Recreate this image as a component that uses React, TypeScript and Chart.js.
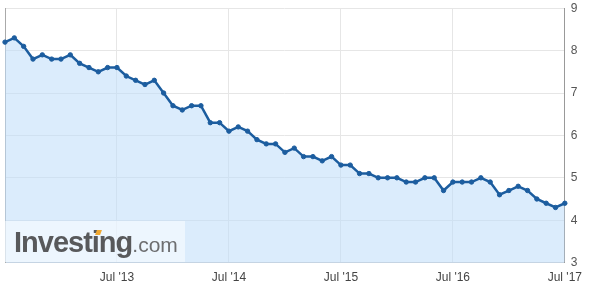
import React, { useEffect, useRef } from "react";
import { Chart, registerables } from "chart.js";

Chart.register(...registerables);

const months = ["Jan", "Feb", "Mar", "Apr", "May", "Jun", "Jul", "Aug", "Sep", "Oct", "Nov", "Dec"];

// Release months: Jul 2012 .. Jul 2017
const categories: string[] = [];
for (let y = 2012; y <= 2017; y++) {
  for (let m = 0; m < 12; m++) {
    if (y === 2012 && m < 6) continue;
    if (y === 2017 && m > 6) continue;
    categories.push(`${months[m]} '${String(y).slice(2)}`);
  }
}

const rates: number[] = [
  8.2, 8.3, 8.1, 7.8, 7.9, 7.8, 7.8,
  7.9, 7.7, 7.6, 7.5, 7.6, 7.6, 7.4, 7.3, 7.2, 7.3, 7.0, 6.7,
  6.6, 6.7, 6.7, 6.3, 6.3, 6.1, 6.2, 6.1, 5.9, 5.8, 5.8, 5.6,
  5.7, 5.5, 5.5, 5.4, 5.5, 5.3, 5.3, 5.1, 5.1, 5.0, 5.0, 5.0,
  4.9, 4.9, 5.0, 5.0, 4.7, 4.9, 4.9, 4.9, 5.0, 4.9, 4.6, 4.7,
  4.8, 4.7, 4.5, 4.4, 4.3, 4.4,
];

const tickLabelsShown = ["Jul '13", "Jul '14", "Jul '15", "Jul '16", "Jul '17"];
const yTicks = [3, 4, 5, 6, 7, 8, 9];

export default function App() {
  const ref = useRef<HTMLCanvasElement>(null);
  useEffect(() => {
    if (!ref.current) return;
    const chart = new Chart(ref.current, {
      type: "line",
      data: {
        labels: categories,
        datasets: [
          {
            data: rates,
            borderColor: "#1c5d9f",
            backgroundColor: "rgba(190,220,250,0.55)",
            fill: "start",
            borderWidth: 2.5,
            pointRadius: 2.2,
            pointBackgroundColor: "#1c5d9f",
            pointBorderColor: "#1c5d9f",
            pointBorderWidth: 1,
            tension: 0,
          },
        ],
      },
      options: {
        responsive: false,
        animation: false,
        maintainAspectRatio: false,
        layout: { padding: { left: 4, right: 3, top: 3, bottom: 3 } },
        plugins: { legend: { display: false }, tooltip: { enabled: false } },
        scales: {
          x: {
            type: "category",
            offset: false,
            grid: { color: "#e6e6e6", drawTicks: false },
            border: { color: "#c6d4e2", width: 1 },
            ticks: {
              autoSkip: false,
              maxRotation: 0,
              padding: 8,
              color: "#444",
              font: { family: "Liberation Sans, Arial", size: 12 },
              callback: (_v: any, i: number) => {
                const l = categories[i];
                return tickLabelsShown.includes(l) ? l : null;
              },
            },
          },
          y: {
            position: "right",
            min: yTicks[0],
            max: yTicks[yTicks.length - 1],
            afterBuildTicks: (s: any) => {
              s.ticks = yTicks.map((v) => ({ value: v }));
            },
            grid: { color: "#e6e6e6", drawTicks: false },
            border: { color: "#999", width: 1 },
            ticks: {
              padding: 6,
              color: "#555",
              font: { family: "Liberation Sans, Arial", size: 12 },
            },
          },
          yLeft: {
            position: "left",
            min: 3,
            max: 9,
            grid: { display: false, drawTicks: false },
            border: { display: true, color: "#aaa", width: 1 },
            ticks: { display: false },
          },
        },
      },
    });
    return () => chart.destroy();
  }, []);

  return (
    <div style={{ position: "absolute", left: 0, top: 0, width: 590, height: 296, background: "#fff", overflow: "hidden" }}>
      <canvas
        ref={ref}
        width={590}
        height={301}
        style={{ display: "block", position: "absolute", left: 0, top: -5 }}
      />
      <div
        style={{
          position: "absolute",
          left: 5,
          top: 221,
          width: 180,
          height: 41,
          background: "rgba(255,255,255,0.5)",
        }}
      >
        <div
          style={{
            position: "absolute",
            left: 9,
            top: 5,
            whiteSpace: "nowrap",
            fontFamily: "Liberation Sans, Arial, sans-serif",
            color: "#58595b",
            lineHeight: "32px",
          }}
        >
          <span style={{ fontSize: 29, fontWeight: "bold", letterSpacing: -1 }}>Investing</span>
          <span style={{ fontSize: 21, color: "#6d6e70" }}>.com</span>
        </div>
        <div
          style={{
            position: "absolute",
            left: 91,
            top: 9,
            width: 5,
            height: 5,
            background: "#f0a830",
            transform: "skewX(-20deg)",
          }}
        />
      </div>
    </div>
  );
}
